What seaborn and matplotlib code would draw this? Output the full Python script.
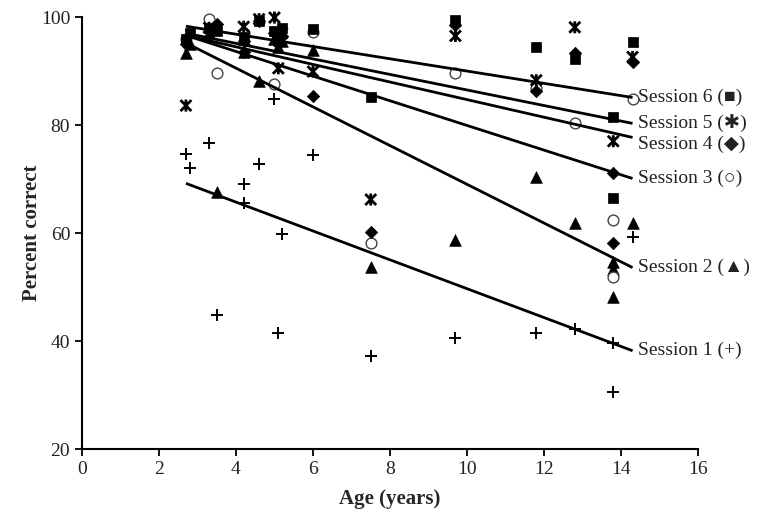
import matplotlib
matplotlib.use("Agg")
import numpy as np
import pandas as pd
import matplotlib.pyplot as plt
from matplotlib.path import Path
import seaborn as sns

# Percent correct per child, by session
s1_age = [2.7, 2.8, 3.3, 3.5, 4.2, 4.2, 4.6, 5.0, 5.1, 5.2, 6.0, 7.5, 9.7, 11.8, 12.8, 13.8, 13.8, 14.3]
s1_pct = [74.6, 72.1, 76.7, 44.9, 69.1, 65.5, 72.8, 84.8, 41.5, 59.9, 74.4, 37.3, 40.5, 41.4, 42.3, 39.7, 30.6, 59.3]

s2_age = [2.7, 2.8, 3.3, 3.5, 4.2, 4.2, 4.6, 5.0, 5.1, 5.2, 6.0, 7.5, 9.7, 11.8, 12.8, 13.8, 13.8, 13.8, 14.3]
s2_pct = [93.3, 95.0, 97.0, 67.6, 93.5, 96.0, 88.1, 96.0, 94.5, 95.5, 93.9, 53.8, 58.7, 70.4, 61.8, 54.6, 53.3, 48.1, 61.8]

s3_age = [2.7, 3.3, 3.5, 4.2, 5.0, 5.1, 6.0, 7.5, 9.7, 11.8, 12.8, 13.8, 13.8, 14.3]
s3_pct = [96.0, 99.6, 89.6, 97.0, 87.6, 97.0, 97.3, 58.1, 89.6, 86.8, 80.4, 62.5, 51.8, 84.8]

s4_age = [2.7, 3.3, 3.5, 4.2, 4.2, 4.6, 5.0, 5.1, 5.2, 6.0, 7.5, 9.7, 11.8, 12.8, 13.8, 13.8, 14.3]
s4_pct = [95.0, 97.5, 98.8, 93.5, 95.5, 99.3, 97.0, 95.0, 96.5, 85.4, 60.1, 98.5, 86.3, 93.3, 71.2, 58.1, 91.7]

s5_age = [2.7, 3.3, 4.2, 4.6, 5.0, 5.1, 5.2, 6.0, 7.5, 9.7, 11.8, 12.8, 13.8, 14.3]
s5_pct = [83.6, 98.0, 98.2, 99.6, 99.9, 90.5, 97.0, 89.9, 66.2, 96.5, 88.3, 98.1, 77.0, 92.6]

s6_age = [2.7, 2.8, 3.3, 3.5, 4.2, 4.6, 5.0, 5.1, 5.2, 6.0, 7.5, 9.7, 11.8, 12.8, 13.8, 13.8, 14.3]
s6_pct = [95.9, 97.0, 98.0, 97.5, 96.3, 99.3, 97.5, 96.5, 97.9, 97.7, 85.2, 99.4, 94.4, 92.3, 81.5, 66.4, 95.4]

# Linear trend per session: fitted value at youngest and oldest age
fit_start = [69.2, 95.2, 96.6, 96.6, 97.0, 98.3]
fit_end = [38.2, 53.6, 70.1, 77.7, 80.3, 85.1]

sessions = ["Session 1", "Session 2", "Session 3", "Session 4", "Session 5", "Session 6"]
symbols = ["+", "\u25B2", "\u25CB", "\u25C6", "\u2731", "\u25A0"]

ages = [s1_age, s2_age, s3_age, s4_age, s5_age, s6_age]
pcts = [s1_pct, s2_pct, s3_pct, s4_pct, s5_pct, s6_pct]

df = pd.concat(
    [pd.DataFrame({"session": s, "age": a, "pct": p}) for s, a, p in zip(sessions, ages, pcts)],
    ignore_index=True,
)

# x with a vertical bar (spreadsheet "star" marker)
star = Path([(-1, -1), (1, 1), (-1, 1), (1, -1), (0, -1.1), (0, 1.1)],
            [Path.MOVETO, Path.LINETO, Path.MOVETO, Path.LINETO, Path.MOVETO, Path.LINETO])

styles = {
    "Session 1": dict(marker="+", s=70, color="black", linewidth=1.4),
    "Session 2": dict(marker="^", s=70, facecolor="black", edgecolor="black", linewidth=0.5),
    "Session 3": dict(marker="o", s=60, facecolor="white", edgecolor="#444444", linewidth=1.0),
    "Session 4": dict(marker="D", s=40, facecolor="black", edgecolor="black", linewidth=0.5),
    "Session 5": dict(marker=star, s=75, facecolor="none", edgecolor="black", linewidth=2.0),
    "Session 6": dict(marker="s", s=45, facecolor="black", edgecolor="black", linewidth=0.5),
}
label_nudge = [0, 0, 0, -5, 0, 0]

sns.set_style("ticks")
plt.rcParams["font.family"] = ["Liberation Serif", "DejaVu Sans"]

fig = plt.figure(figsize=(7.64, 5.24), dpi=100)
ax = fig.add_axes([0.1073, 0.1431, 0.8063, 0.8244])

for i, sess in enumerate(sessions):
    sub = df[df["session"] == sess]
    sns.scatterplot(data=sub, x="age", y="pct", ax=ax, legend=False, zorder=3,
                    clip_on=False, **styles[sess])

amin = df["age"].min()
amax = df["age"].max()
for i, sess in enumerate(sessions):
    ax.plot([amin, amax], [fit_start[i], fit_end[i]], color="black", lw=2.0,
            solid_capstyle="butt", zorder=4)
    ax.annotate(f"{sess} ({symbols[i]})", xy=(amax, fit_end[i]),
                xytext=(4, label_nudge[i]), textcoords="offset points",
                va="center", ha="left", fontsize=14, color="#222222",
                annotation_clip=False)

ax.set_xlim(0, 16)
ax.set_ylim(20, 100)
ax.set_xticks(range(0, 17, 2))
ax.set_yticks(range(20, 101, 20))
ax.tick_params(axis="both", labelsize=14, colors="black", labelcolor="#222222",
               length=5, width=1.3, direction="out")
for side in ["top", "right"]:
    ax.spines[side].set_visible(False)
for side in ["left", "bottom"]:
    ax.spines[side].set_linewidth(1.5)
    ax.spines[side].set_color("black")

ax.set_xlabel("Age (years)", fontsize=15, fontweight="bold", labelpad=8)
ax.set_ylabel("Percent correct", fontsize=15, fontweight="bold", labelpad=-1)

fig.savefig("out.png", dpi=100)
